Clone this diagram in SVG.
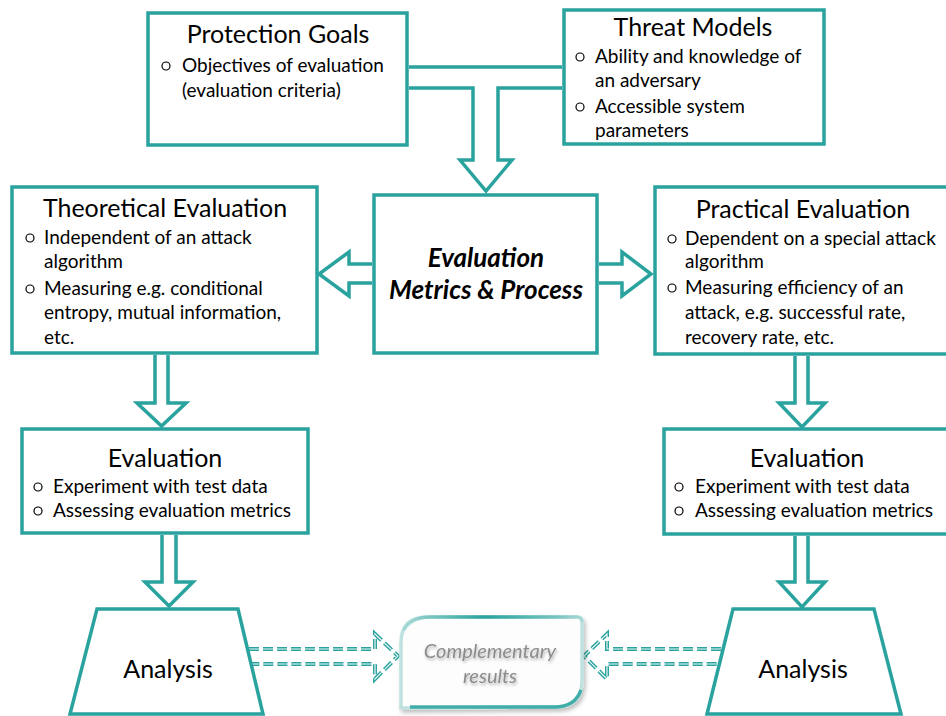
<svg xmlns="http://www.w3.org/2000/svg" width="946" height="716" viewBox="0 0 946 716">
<defs>
<style>
.box{fill:#fff;stroke:#2aa39e;stroke-width:3.5}
.con{fill:#fff;stroke:#2aa39e;stroke-width:3.5;stroke-linejoin:miter}
.t{font-family:Lato,"Liberation Sans",Arial,sans-serif;fill:#000}
.title{font-size:25px;text-anchor:middle}
.body{font-size:19px}
.bul{fill:none;stroke:#000;stroke-width:1.2}
.dash1{fill:none;stroke:#2aa39e;stroke-width:4;stroke-dasharray:10 4}
.dash2{fill:none;stroke:#e8f6f5;stroke-width:1.2;stroke-dasharray:10 4}
.comp{font-family:Lato,"Liberation Sans",Arial,sans-serif;font-style:italic;font-size:20px;fill:#8c8c8c;text-anchor:middle}
</style>
<linearGradient id="gTop" x1="0" y1="0" x2="1" y2="0">
<stop offset="0" stop-color="#2aa39e" stop-opacity="0.2"/>
<stop offset="0.45" stop-color="#2aa39e"/>
<stop offset="0.85" stop-color="#2aa39e" stop-opacity="0.5"/>
<stop offset="1" stop-color="#2aa39e" stop-opacity="0.15"/>
</linearGradient>
<filter id="sh" x="-20%" y="-20%" width="140%" height="140%">
<feDropShadow dx="2" dy="3" stdDeviation="2" flood-color="#000" flood-opacity="0.25"/>
</filter>
<filter id="tsh" x="-10%" y="-30%" width="120%" height="160%">
<feDropShadow dx="1" dy="2" stdDeviation="1.5" flood-color="#000" flood-opacity="0.3"/>
</filter>
</defs>
<rect width="946" height="716" fill="#fff"/>

<g id="connectors">
<path class="con" d="M409,67 H562 M562,88 H498 V160 H512 L486,191 L460,160 H473 V88 H409"/>
<path class="con" d="M372,264 H349 V252 L319,274 L349,296 V283 H372"/>
<path class="con" d="M599,264 H622 V252 L651,274 L622,296 V283 H599"/>
<path class="con" d="M155,355 V403 H137 L161.5,426 L186,403 H168 V355"/>
<path class="con" d="M795,356 V403 H779 L802,427 L825,403 H808 V356"/>
<path class="con" d="M162,535 V582 H145 L169,606 L193,582 H176 V535"/>
<path class="con" d="M795,536 V582 H779 L802,607 L825,582 H808 V536"/>
<g id="dashLeft">
<path class="dash1" d="M249,649 H375 V634 L398,656 L375,679 V664 H252"/>
<path class="dash2" d="M249,649 H375 V634 L398,656 L375,679 V664 H252"/>
</g>
<g id="dashRight">
<path class="dash1" d="M721,649 H607 V634 L584,656 L607,679 V664 H719"/>
<path class="dash2" d="M721,649 H607 V634 L584,656 L607,679 V664 H719"/>
</g>
</g>

<g id="protection-goals">
<rect class="box" x="148" y="13" width="259" height="132"/>
<text class="t title" x="278" y="43">Protection Goals</text>
<circle class="bul" cx="166" cy="66" r="4"/>
<text class="t body" x="182" y="72">Objectives of evaluation</text>
<text class="t body" x="182" y="97">(evaluation criteria)</text>
</g>

<g id="threat-models">
<rect class="box" x="564" y="10" width="260" height="134"/>
<text class="t title" x="693" y="36">Threat Models</text>
<circle class="bul" cx="580" cy="57" r="4"/>
<text class="t body" x="595" y="63">Ability and knowledge of</text>
<text class="t body" x="595" y="87">an adversary</text>
<circle class="bul" cx="580" cy="107" r="4"/>
<text class="t body" x="595" y="113">Accessible system</text>
<text class="t body" x="595" y="137">parameters</text>
</g>

<g id="evaluation-metrics">
<rect class="box" x="374" y="195" width="223" height="158"/>
<text class="t" x="486" y="267" font-size="26" font-weight="bold" font-style="italic" text-anchor="middle">Evaluation</text>
<text class="t" x="486" y="299" font-size="26" font-weight="bold" font-style="italic" text-anchor="middle">Metrics &amp; Process</text>
</g>

<g id="theoretical-evaluation">
<rect class="box" x="12" y="187" width="305" height="166"/>
<text class="t title" x="165" y="217">Theoretical Evaluation</text>
<circle class="bul" cx="30" cy="238" r="4"/>
<text class="t body" x="44" y="244">Independent of an attack</text>
<text class="t body" x="44" y="268">algorithm</text>
<circle class="bul" cx="30" cy="289" r="4"/>
<text class="t body" x="44" y="295">Measuring e.g. conditional</text>
<text class="t body" x="44" y="319">entropy, mutual information,</text>
<text class="t body" x="44" y="344">etc.</text>
</g>

<g id="practical-evaluation">
<rect class="box" x="655" y="187" width="300" height="167"/>
<text class="t title" x="803" y="218">Practical Evaluation</text>
<circle class="bul" cx="672" cy="239" r="4"/>
<text class="t body" x="685" y="245">Dependent on a special attack</text>
<text class="t body" x="685" y="268">algorithm</text>
<circle class="bul" cx="672" cy="288" r="4"/>
<text class="t body" x="685" y="294">Measuring efficiency of an</text>
<text class="t body" x="685" y="319">attack, e.g. successful rate,</text>
<text class="t body" x="685" y="344">recovery rate, etc.</text>
</g>

<g id="evaluation-left">
<rect class="box" x="22" y="429" width="286" height="104"/>
<text class="t title" x="165" y="467">Evaluation</text>
<circle class="bul" cx="38" cy="487" r="4"/>
<text class="t body" x="53" y="493">Experiment with test data</text>
<circle class="bul" cx="38" cy="511" r="4"/>
<text class="t body" x="53" y="517">Assessing evaluation metrics</text>
</g>

<g id="evaluation-right">
<rect class="box" x="664" y="429" width="290" height="105"/>
<text class="t title" x="807" y="467">Evaluation</text>
<circle class="bul" cx="679" cy="487" r="4"/>
<text class="t body" x="695" y="493">Experiment with test data</text>
<circle class="bul" cx="679" cy="511" r="4"/>
<text class="t body" x="695" y="517">Assessing evaluation metrics</text>
</g>

<g id="analysis-left">
<polygon class="box" points="97,609 238,609 263,714 70,714"/>
<text class="t title" x="168" y="678">Analysis</text>
</g>

<g id="analysis-right">
<polygon class="box" points="733,609 874,609 901,714 707,714"/>
<text class="t title" x="803" y="678">Analysis</text>
</g>

<g id="complementary-results">
<path d="M401,708 V643 Q401,617 427,617 H577 Q582,617 582,622 V680 Q582,707 555,707 Z" fill="#fdfdfd" stroke="#bfe2e0" stroke-width="3.5" filter="url(#sh)"/>
<path d="M404,630 Q412,617 430,617 H577 Q582,617 582,622" fill="none" stroke="url(#gTop)" stroke-width="3.5"/>
<path d="M410,707 H555 Q575,707 581,690" fill="none" stroke="#2aa39e" stroke-width="3.5" stroke-opacity="0.85"/>
<text class="comp" x="490" y="658" filter="url(#tsh)">Complementary</text>
<text class="comp" x="490" y="683" filter="url(#tsh)">results</text>
</g>
</svg>
